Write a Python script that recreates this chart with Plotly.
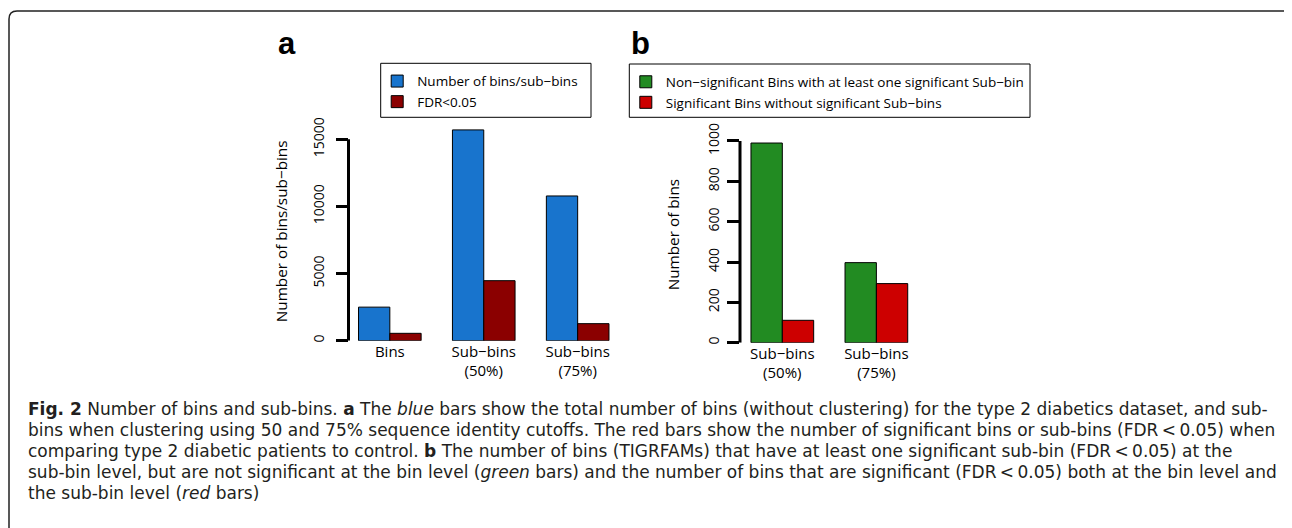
import plotly.graph_objects as go

# ---------------- data ----------------
cats_a = ["Bins", "Sub\u2212bins<br>(50%)", "Sub\u2212bins<br>(75%)"]
total_a = [2500, 15700, 10780]
fdr_a = [550, 4470, 1270]
yticks_a = [0, 5000, 10000, 15000]

cats_b = ["Sub\u2212bins<br>(50%)", "Sub\u2212bins<br>(75%)"]
nonsig_b = [990, 397]
sig_b = [111, 293]
yticks_b = [0, 200, 400, 600, 800, 1000]

name_total = "Number of bins/sub\u2212bins"
name_fdr = "FDR&lt;0.05"
name_nonsig = "Non\u2212significant Bins with at least one significant Sub\u2212bin"
name_sig = "Significant Bins without significant Sub\u2212bins"

caption_lines = [
    "<b>Fig. 2</b> Number of bins and sub-bins. <b>a</b> The <i>blue</i> bars show the total number of bins (without clustering) for the type 2 diabetics dataset, and sub-",
    "bins when clustering using 50 and 75% sequence identity cutoffs. The red bars show the number of significant bins or sub-bins (FDR\u2009&lt;\u20090.05) when",
    "comparing type 2 diabetic patients to control. <b>b</b> The number of bins (TIGRFAMs) that have at least one significant sub-bin (FDR\u2009&lt;\u20090.05) at the",
    "sub-bin level, but are not significant at the bin level (<i>green</i> bars) and the number of bins that are significant (FDR\u2009&lt;\u20090.05) both at the bin level and",
    "the sub-bin level (<i>red</i> bars)",
]

# ---------------- layout helpers ----------------
W, H = 1292, 528
OFF = 8  # page body margin in the browser
def fx(px):
    return (px - OFF) / W
def fy(py):
    return 1 - (py - OFF) / H

FONT = "Open Sans"
CAPFONT = "DejaVu Sans"
BLUE, DARKRED, GREEN, RED = "#1874CD", "#8B0000", "#228B22", "#CD0000"

# panel a geometry (pixels)
a_left, a_right = 348.5, 619.0
a_zero_px, a_scale = 340.7, 201.4 / 15000
a_top_val = max(total_a) * 1.04
a_top_px = a_zero_px - a_top_val * a_scale

# panel b geometry
b_left, b_right = 740.0, 914.0
b_zero_px, b_scale = 342.7, 201.7 / 1000
b_top_val = max(nonsig_b) * 1.04
b_top_px = b_zero_px - b_top_val * b_scale

fig = go.Figure()
line = dict(color="black", width=1)
fig.add_trace(go.Bar(x=cats_a, y=total_a, name=name_total, marker=dict(color=BLUE, line=line),
                     xaxis="x", yaxis="y", legend="legend"))
fig.add_trace(go.Bar(x=cats_a, y=fdr_a, name=name_fdr, marker=dict(color=DARKRED, line=line),
                     xaxis="x", yaxis="y", legend="legend"))
fig.add_trace(go.Bar(x=cats_b, y=nonsig_b, name=name_nonsig, marker=dict(color=GREEN, line=line),
                     xaxis="x2", yaxis="y2", legend="legend2"))
fig.add_trace(go.Bar(x=cats_b, y=sig_b, name=name_sig, marker=dict(color=RED, line=line),
                     xaxis="x2", yaxis="y2", legend="legend2"))

xcommon = dict(type="category", showgrid=False, zeroline=False, showline=False, ticks="",
               automargin=False,
               tickfont=dict(family=FONT, size=15, color="black"), fixedrange=True)
ycommon = dict(showgrid=False, zeroline=False, showline=False, ticks="outside", ticklen=12,
               tickwidth=3, tickcolor="black", tickangle=-90,
               automargin=False, tickformat="d",
               tickfont=dict(family=FONT, size=14, color="black"), fixedrange=True)

legcommon = dict(xanchor="left", yanchor="top", borderwidth=0,
                 bgcolor="rgba(0,0,0,0)", font=dict(family=FONT, size=13.5, color="black"),
                 traceorder="normal")

# legend frame boxes (pixels)
leg_a_box = (380.7, 63.3, 591.0, 117.3)
leg_b_box = (629.3, 64.0, 1030.0, 117.3)

fig.update_layout(
    width=W, height=H,
    margin=dict(l=0, r=0, t=0, b=0, pad=0, autoexpand=False),
    paper_bgcolor="white", plot_bgcolor="white",
    barmode="group", bargap=1/3, bargroupgap=0,
    xaxis=dict(xcommon, domain=[fx(a_left), fx(a_right)], range=[-0.44, 2.44], anchor="y"),
    yaxis=dict(ycommon, domain=[fy(a_zero_px), fy(a_top_px)], range=[0, a_top_val],
               tickvals=yticks_a, anchor="x", ticklabelstandoff=6),
    xaxis2=dict(xcommon, domain=[fx(b_left), fx(b_right)], range=[-0.45, 1.40], anchor="y2"),
    yaxis2=dict(ycommon, domain=[fy(b_zero_px), fy(b_top_px)], range=[0, b_top_val],
                tickvals=yticks_b, anchor="x2", ticklabelstandoff=2),
    legend=dict(legcommon, x=fx(leg_a_box[0] - 3.5), y=fy(leg_a_box[1] + 2.5)),
    legend2=dict(legcommon, x=fx(leg_b_box[0] - 3.5), y=fy(leg_b_box[1] + 2.5)),
    showlegend=True,
)

for (x0, y0, x1, y1) in (leg_a_box, leg_b_box):
    fig.add_shape(type="rect", xref="paper", yref="paper", x0=fx(x0), x1=fx(x1), y0=fy(y0), y1=fy(y1),
                  line=dict(color="black", width=1), layer="below")

# axis spines (R style: only from first to last tick)
fig.add_shape(type="line", xref="x domain", yref="y", x0=0, x1=0, y0=yticks_a[0], y1=yticks_a[-1],
              line=dict(color="black", width=3))
fig.add_shape(type="line", xref="x2 domain", yref="y2", x0=0, x1=0, y0=yticks_b[0], y1=yticks_b[-1],
              line=dict(color="black", width=3))

# outer rounded frame
r = 8
xl, xr, yt, yb = 9, 1294, 11, 545
path = (f"M {fx(xl)},{fy(yb)} L {fx(xl)},{fy(yt + r)} Q {fx(xl)},{fy(yt)} {fx(xl + r)},{fy(yt)} "
        f"L {fx(xr - r)},{fy(yt)} Q {fx(xr)},{fy(yt)} {fx(xr)},{fy(yt + r)} L {fx(xr)},{fy(yb)}")
fig.add_shape(type="path", xref="paper", yref="paper", path=path,
              line=dict(color="#222222", width=1.5))

ann = []
# axis titles
ann.append(dict(text=name_total, x=fx(280.7), y=fy(231.5), xref="paper", yref="paper",
                textangle=-90, showarrow=False, xanchor="center", yanchor="middle",
                font=dict(family=FONT, size=15.3, color="black")))
ann.append(dict(text="Number of bins", x=fx(673.3), y=fy(235), xref="paper", yref="paper",
                textangle=-90, showarrow=False, xanchor="center", yanchor="middle",
                font=dict(family=FONT, size=15.3, color="black")))
# panel letters
ann.append(dict(text="<b>a</b>", x=fx(287), y=fy(44), xref="paper", yref="paper",
                showarrow=False, xanchor="center", yanchor="middle",
                font=dict(family="Liberation Sans", size=31, color="black")))
ann.append(dict(text="<b>b</b>", x=fx(640), y=fy(44), xref="paper", yref="paper",
                showarrow=False, xanchor="center", yanchor="middle",
                font=dict(family="Liberation Sans", size=31, color="black")))
# caption
cap_y = [409, 430, 451, 472, 493]
for txt, yy in zip(caption_lines, cap_y):
    ann.append(dict(text=txt, x=fx(26), y=fy(yy), xref="paper", yref="paper",
                    showarrow=False, xanchor="left", yanchor="middle", align="left",
                    font=dict(family=CAPFONT, size=17, color="#231F20")))
fig.update_layout(annotations=ann)

fig.write_html("out.html")
